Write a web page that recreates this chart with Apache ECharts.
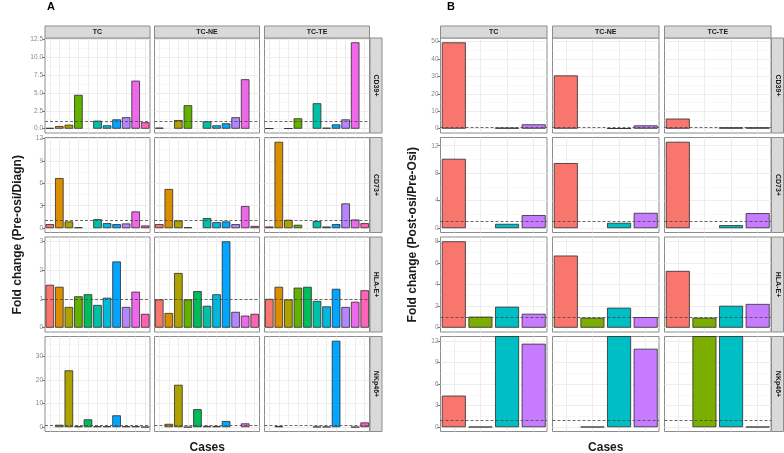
<!DOCTYPE html>
<html><head><meta charset="utf-8">
<script src="https://cdn.jsdelivr.net/npm/echarts@6/dist/echarts.min.js"></script>
<style>html,body{margin:0;padding:0;background:#fff}#c{width:784px;height:453px}</style>
</head><body><div id="c"></div>
<script>
// ---------- categories ----------
const casesA = ['Case 1','Case 2','Case 3','Case 4','Case 5','Case 6','Case 7','Case 8','Case 9','Case 10','Case 11'];
const casesB = ['Case 1','Case 2','Case 3','Case 4'];
const facets = ['TC','TC-NE','TC-TE'];
const markers = ['CD39+','CD73+','HLA-E+','NKp46+'];
const colorsA = ['#F8766D','#DB8E00','#AEA200','#64B200','#00BD5C','#00C1A7','#00BADE','#00A6FF','#B385FF','#EF67EB','#FF63B6'];
const colorsB = ['#F8766D','#7CAE00','#00BFC4','#C77CFF'];

// ---------- panel A values (Pre-osi/Diagn) ----------
const aCD39TC = [0.1, 0.37, 0.56, 4.72, null, 1.12, 0.47, 1.3, 1.6, 6.7, 0.9];
const aCD39NE = [0.15, null, 1.2, 3.27, null, 1.03, 0.47, 0.75, 1.6, 6.9, null];
const aCD39TE = [0.05, null, 0.05, 1.45, null, 3.55, 0.14, 0.6, 1.3, 12.05, null];
const aCD73TC = [0.54, 6.7, 0.9, 0.13, null, 1.2, 0.67, 0.54, 0.63, 2.24, 0.36];
const aCD73NE = [0.54, 5.24, 1.03, 0.13, null, 1.34, 0.8, 0.9, 0.54, 2.96, 0.3];
const aCD73TE = [0.22, 11.55, 1.12, 0.45, null, 0.94, 0.22, 0.54, 3.31, 1.16, 0.67];
const aHLATC = [1.49, 1.42, 0.72, 1.09, 1.16, 0.79, 1.04, 2.3, 0.72, 1.25, 0.48];
const aHLANE = [0.98, 0.51, 1.9, 0.98, 1.27, 0.76, 1.16, 3.0, 0.55, 0.42, 0.48];
const aHLATE = [1.0, 1.42, 0.98, 1.39, 1.42, 0.93, 0.74, 1.35, 0.72, 0.9, 1.3];
const aNKTC = [null, 1.0, 24.0, 0.4, 3.3, 0.4, 0.4, 5.0, 0.4, 0.4, 0.1];
const aNKNE = [null, 1.4, 17.9, 0.05, 7.6, 0.4, 0.4, 2.6, null, 1.6, null];
const aNKTE = [null, 0.4, null, null, null, 0.2, 0.2, 36.5, null, 0.05, 2.0];

// ---------- panel B values (Post-osi/Pre-Osi) ----------
const bCD39TC = [49.6, null, 0.6, 2.5];
const bCD39NE = [30.6, null, 0.2, 1.9];
const bCD39TE = [5.8, null, 0.8, 0.8];
const bCD73TC = [10.1, null, 0.63, 1.9];
const bCD73NE = [9.48, null, 0.78, 2.23];
const bCD73TE = [12.58, null, 0.44, 2.19];
const bHLATC = [8.0, 1.02, 1.94, 1.29];
const bHLANE = [6.68, 0.92, 1.85, 0.98];
const bHLATE = [5.26, 0.92, 2.03, 2.2];
const bNKTC = [4.38, 0.05, 20, 11.6];
const bNKNE = [null, 0.05, 20, 10.9];
const bNKTE = [null, 20, 20, 0.05];

// ---------- tick labels ----------
const aTicksCD39 = [0, 2.5, 5, 7.5, 10, 12.5];
const aTicksCD73 = [0, 3, 6, 9, 12];
const aTicksHLA = [0, 1, 2, 3];
const aTicksNK = [0, 10, 20, 30];
const bTicksCD39 = [0, 10, 20, 30, 40, 50];
const bTicksCD73 = [0, 4, 8, 12];
const bTicksHLA = [0, 2, 4, 6, 8];
const bTicksNK = [0, 3, 6, 9, 12];

// axis limits per row
const aLimits = [[-0.6, 12.65], [-0.58, 12.13], [-0.15, 3.15], [-1.83, 38.3]];
const bLimits = [[-2.48, 52.1], [-0.63, 13.2], [-0.4, 8.4], [-0.6, 12.6]];
const aDecimals = [1, 0, 0, 0];
const bDecimals = [0, 0, 0, 0];

const panels = [
  { name: 'A', cases: casesA, colors: colorsA,
    data: [[aCD39TC, aCD39NE, aCD39TE], [aCD73TC, aCD73NE, aCD73TE], [aHLATC, aHLANE, aHLATE], [aNKTC, aNKNE, aNKTE]],
    ticks: [aTicksCD39, aTicksCD73, aTicksHLA, aTicksNK], limits: aLimits, dec: aDecimals,
    colLeft: [45, 154.5, 264.5], colW: 105, title: 'Fold change (Pre-osi/Diagn)', titleX: 18, tag: 'A', tagX: 47 },
  { name: 'B', cases: casesB, colors: colorsB,
    data: [[bCD39TC, bCD39NE, bCD39TE], [bCD73TC, bCD73NE, bCD73TE], [bHLATC, bHLANE, bHLATE], [bNKTC, bNKNE, bNKTE]],
    ticks: [bTicksCD39, bTicksCD73, bTicksHLA, bTicksNK], limits: bLimits, dec: bDecimals,
    colLeft: [440.5, 552.5, 664.5], colW: 106.5, title: 'Fold change (Post-osi/Pre-Osi)', titleX: 413, tag: 'B', tagX: 447 }
];

const rowTop = [38, 137.5, 237, 336.5];
const rowH = 95;
const stripTop = 26, stripH = 12, stripW = 12;

const grids = [], xAxes = [], yAxes = [], series = [], graphics = [];
const FONT = 'Liberation Sans, Arial, sans-serif';

panels.forEach(p => {
  for (let r = 0; r < 4; r++) {
    const ticks = p.ticks[r];
    const lim = p.limits[r];
    const step = ticks[1] - ticks[0];
    const minor = [];
    for (let v = ticks[0] - step / 2; v <= lim[1]; v += step) {
      if (v >= lim[0]) minor.push(v);
    }
    for (let c = 0; c < 3; c++) {
      const idx = grids.length;
      grids.push({ left: p.colLeft[c], top: rowTop[r], width: p.colW, height: rowH,
        show: true, backgroundColor: '#fff', borderColor: '#8c8c8c', borderWidth: 1 });
      xAxes.push({ type: 'category', gridIndex: idx, data: p.cases, boundaryGap: true,
        axisLine: { show: false },
        axisTick: { show: r === 3, alignWithLabel: true, length: 3, lineStyle: { color: '#555', width: 0.8 } },
        axisLabel: { show: false }, splitLine: { show: false } });
      const dec = p.dec[r];
      yAxes.push({ type: 'value', gridIndex: idx, min: lim[0], max: lim[1],
        axisLine: { show: false },
        axisTick: { show: c === 0, customValues: ticks, length: 3, lineStyle: { color: '#555', width: 0.8 } },
        axisLabel: { show: c === 0, customValues: ticks, fontSize: 6.5, color: '#888', margin: 2, fontFamily: FONT,
          formatter: v => Number(v).toFixed(dec) },
        splitLine: { show: false } });
      // background grid lines
      const gl = [];
      minor.forEach(v => gl.push({ yAxis: v, lineStyle: { color: '#f4f4f4', width: 0.6, type: 'solid' } }));
      ticks.forEach(v => gl.push({ yAxis: v, lineStyle: { color: '#ebebeb', width: 0.9, type: 'solid' } }));
      p.cases.forEach(k => gl.push({ xAxis: k, lineStyle: { color: '#ebebeb', width: 0.9, type: 'solid' } }));
      series.push({ type: 'line', xAxisIndex: idx, yAxisIndex: idx, data: [], z: 1, silent: true, animation: false,
        markLine: { z: 1, silent: true, symbol: ['none', 'none'], label: { show: false }, animation: false, data: gl } });
      // bars
      const vals = p.data[r][c];
      series.push({ type: 'bar', xAxisIndex: idx, yAxisIndex: idx, z: 3, barWidth: '90%', animation: false, clip: true,
        itemStyle: { borderColor: '#2b2b2b', borderWidth: 0.8 },
        data: vals.map((v, i) => v == null ? '-' : { value: v, itemStyle: { color: p.colors[i] } }),
        markLine: { z: 5, silent: true, symbol: ['none', 'none'], label: { show: false }, animation: false,
          lineStyle: { type: [3, 2], color: '#444', width: 0.8 }, data: [{ yAxis: 1 }] } });
    }
    // right strip
    const sx = p.colLeft[2] + p.colW + 0.5;
    graphics.push({ type: 'rect', shape: { x: sx, y: rowTop[r], width: stripW, height: rowH },
      style: { fill: '#d9d9d9', stroke: '#8c8c8c', lineWidth: 1 }, z: 10 });
    graphics.push({ type: 'text', x: sx + stripW / 2, y: rowTop[r] + rowH / 2, rotation: -Math.PI / 2, z: 11,
      style: { text: markers[r], font: 'bold 7px ' + FONT, fill: '#1a1a1a', align: 'center', verticalAlign: 'middle' } });
  }
  // top strips
  for (let c = 0; c < 3; c++) {
    graphics.push({ type: 'rect', shape: { x: p.colLeft[c], y: stripTop, width: p.colW, height: stripH },
      style: { fill: '#d9d9d9', stroke: '#8c8c8c', lineWidth: 1 }, z: 10 });
    graphics.push({ type: 'text', x: p.colLeft[c] + p.colW / 2, y: stripTop + stripH / 2, z: 11,
      style: { text: facets[c], font: 'bold 7px ' + FONT, fill: '#1a1a1a', align: 'center', verticalAlign: 'middle' } });
  }
  // axis title
  graphics.push({ type: 'text', x: p.titleX, y: rowTop[0] + (rowTop[3] + rowH - rowTop[0]) / 2, rotation: Math.PI / 2, z: 11,
    style: { text: p.title, font: 'bold 12px ' + FONT, fill: '#1a1a1a', align: 'center', verticalAlign: 'middle' } });
  // x title
  const left = p.colLeft[0], right = p.colLeft[2] + p.colW;
  graphics.push({ type: 'text', x: (left + right) / 2, y: 448, z: 11,
    style: { text: 'Cases', font: 'bold 12px ' + FONT, fill: '#1a1a1a', align: 'center', verticalAlign: 'middle' } });
  // tag
  graphics.push({ type: 'text', x: p.tagX, y: 7, z: 11,
    style: { text: p.tag, font: 'bold 11px ' + FONT, fill: '#000', align: 'left', verticalAlign: 'middle' } });
});

const chart = echarts.init(document.getElementById('c'), null, { renderer: 'canvas' });
chart.setOption({
  animation: false,
  backgroundColor: '#fff',
  grid: grids, xAxis: xAxes, yAxis: yAxes, series: series, graphic: graphics
});
</script></body></html>
